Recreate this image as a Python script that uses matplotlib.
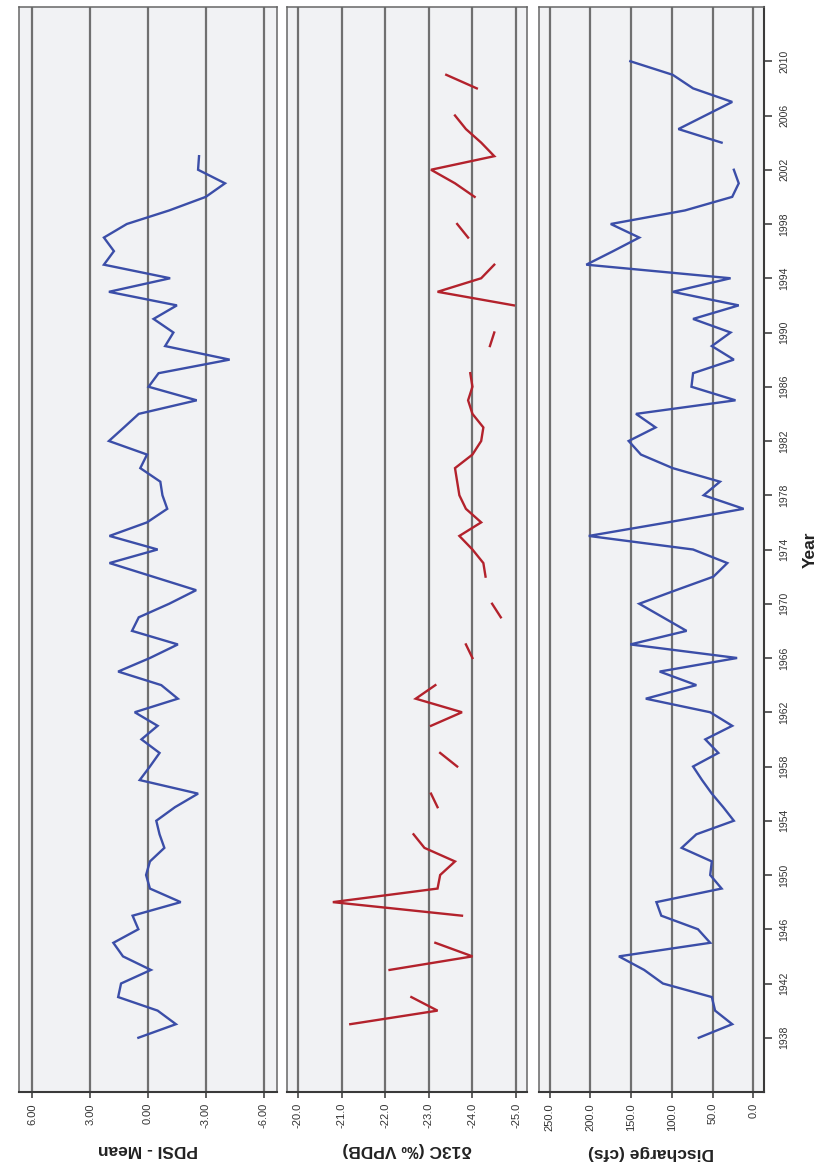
import numpy as np
import matplotlib
matplotlib.use("Agg")
import matplotlib.pyplot as plt
from matplotlib.ticker import FixedLocator, FormatStrFormatter

plt.rcParams['font.family'] = ['Liberation Sans', 'DejaVu Sans']
plt.rcParams['axes.unicode_minus'] = False

nan = np.nan

# ---------------- data ----------------
pdsi_years = list(range(1938, 2004))
pdsi_values = [
    0.5, -1.45, -0.5, 1.55, 1.4, -0.15, 1.3, 1.8, 0.5, 0.8,      # 1938-1947
    -1.7, -0.1, 0.1, -0.1, -0.85, -0.6, -0.43, -1.4, -2.6, 0.43,  # 1948-1957
    -0.1, -0.6, 0.34, -0.5, 0.69, -1.55, -0.69, 1.55, -0.1, -1.55,  # 1958-1967
    0.83, 0.48, -1.1, -2.5, -0.25, 2.0, -0.5, 2.0, 0.05, -1.0,    # 1968-1977
    -0.75, -0.64, 0.4, 0.05, 2.03, 1.25, 0.48, -2.53, -0.03, -0.55,  # 1978-1987
    -4.24, -0.89, -1.32, -0.29, -1.5, 2.03, -1.15, 2.29, 1.77, 2.29,  # 1988-1997
    1.1, -1.1, -3.0, -4.0, -2.6, -2.65,                           # 1998-2003
]

d13c_years = list(range(1938, 2010))
d13c_values = [
    nan, -21.2, -23.2, -22.6, nan, -22.1, -24.0, -23.15, nan, -23.76,    # 1938-1947
    -20.8, -23.2, -23.26, -23.6, -22.9, -22.65, nan, -23.2, -23.05, nan,  # 1948-1957
    -23.65, -23.26, nan, -23.05, -23.76, -22.7, -23.15, nan, -24.0, -23.85,  # 1958-1967
    nan, -24.65, -24.45, nan, -24.3, -24.25, -24.0, -23.7, -24.2, -23.85,  # 1968-1977
    -23.7, -23.65, -23.6, -24.0, -24.2, -24.25, -24.0, -23.9, -24.0, -23.95,  # 1978-1987
    nan, -24.4, -24.5, nan, -24.95, -23.2, -24.2, -24.5, nan, -23.9,      # 1988-1997
    -23.65, nan, -24.05, -23.6, -23.05, -24.5, -24.2, -23.85, -23.6, nan,  # 1998-2007
    -24.1, -23.4,                                                          # 2008-2009
]

q_years = list(range(1938, 2011))
q_values = [
    67, 26, 47, 51, 111, 134, 165, 53, 68, 113,      # 1938-1947
    119, 39, 53, 51, 88, 70, 24, 37, 51, 63,         # 1948-1957
    74, 43, 59, 26, 53, 132, 70, 115, 20, 151,       # 1958-1967
    82, 111, 140, 95, 49, 32, 74, 202, 105, 12,      # 1968-1977
    61, 41, 99, 138, 153, 120, 144, 22, 76, 74,      # 1978-1987
    24, 51, 28, 74, 18, 99, 28, 205, 172, 140,       # 1988-1997
    175, 84, 26, 18, 24, nan, 39, 92, 59, 26,        # 1998-2007
    74, 99, 151,                                     # 2008-2010
]

year_ticks = list(range(1938, 2011, 4))
pdsi_ticks = [6.0, 3.0, 0.0, -3.0, -6.0]
d13c_ticks = [-20.0, -21.0, -22.0, -23.0, -24.0, -25.0]
q_ticks = [250.0, 200.0, 150.0, 100.0, 50.0, 0.0]

labels = ['PDSI - Mean', 'δ13C (‰ VPDB)', 'Discharge (cfs)']

# ---------------- figure ----------------
W, H = 839, 1172
fig = plt.figure(figsize=(W / 100, H / 100), dpi=100)

def rect(x0, x1, y0, y1):
    return [x0 / W, 1 - y1 / H, (x1 - x0) / W, (y1 - y0) / H]

top, bot = 7, 1092
ax1 = fig.add_axes(rect(19, 277, top, bot))
ax2 = fig.add_axes(rect(287, 527, top, bot))
ax3 = fig.add_axes(rect(539, 764, top, bot))

BG = '#f1f2f4'
GRID = '#707070'
BLUE = '#3b4ea8'
RED = '#b3222c'

panels = [
    (ax1, pdsi_years, pdsi_values, BLUE, pdsi_ticks, (6.7, -6.7), '%.2f'),
    (ax2, d13c_years, d13c_values, RED, d13c_ticks, (-19.75, -25.25), '%.1f'),
    (ax3, q_years, q_values, BLUE, q_ticks, (263.0, -13.0), '%.1f'),
]

for i, (ax, yrs, vals, col, ticks, xl, fmt) in enumerate(panels):
    ax.set_facecolor(BG)
    ax.plot(vals, yrs, color=col, lw=1.7, solid_joinstyle='miter', zorder=3)
    ax.set_xlim(*xl)
    ax.set_ylim(1934, 2014)
    ax.xaxis.set_major_locator(FixedLocator(ticks))
    ax.xaxis.set_major_formatter(FormatStrFormatter(fmt))
    ax.grid(True, axis='x', color=GRID, lw=1.6, zorder=1)
    ax.set_axisbelow(True)
    ax.tick_params(axis='x', direction='out', length=4, width=1.2, color='#444444',
                   labelsize=8, labelcolor='#333333', labelrotation=90, pad=4)
    for lab in ax.get_xticklabels():
        lab.set_va('top')
    ax.set_xlabel(labels[i], rotation=180, fontsize=12.5, fontweight='bold',
                  color='#222222', labelpad=10)
    for s in ax.spines.values():
        s.set_color('#666666')
        s.set_linewidth(1.1)
    ax.spines['bottom'].set_color('#3a3a3a')
    ax.spines['bottom'].set_linewidth(1.5)
    if ax is ax3:
        ax.yaxis.tick_right()
        ax.yaxis.set_label_position('right')
        ax.yaxis.set_major_locator(FixedLocator(year_ticks))
        ax.tick_params(axis='y', direction='out', length=6, width=1.2, color='#444444',
                       labelsize=7.5, labelcolor='#333333', labelrotation=90, pad=5)
        for lab in ax.get_yticklabels():
            lab.set_va('center')
        ax.spines['right'].set_color('#3a3a3a')
        ax.spines['right'].set_linewidth(1.5)
        ax.set_ylabel('Year', rotation=90, fontsize=12.5, fontweight='bold',
                      color='#222222', labelpad=10)
    else:
        ax.set_yticks([])

fig.savefig('out.png', dpi=100, facecolor='white')
